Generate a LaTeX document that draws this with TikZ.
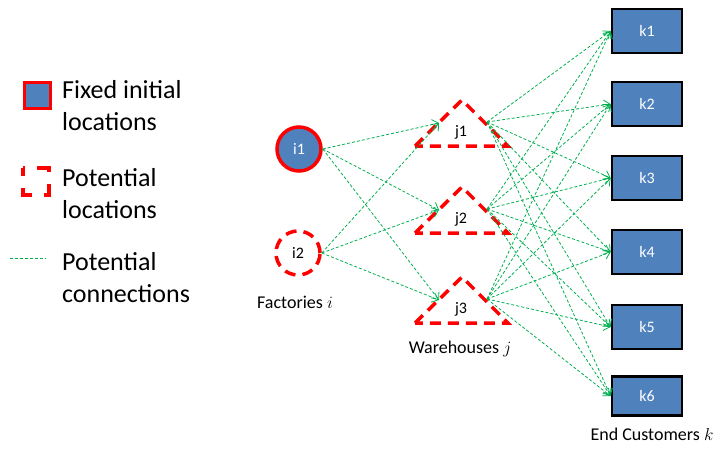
\documentclass[tikz,border=0pt]{standalone}
\usepackage{fontspec}
\setmainfont{Carlito}
\usetikzlibrary{arrows.meta}
\definecolor{gblue}{HTML}{4F81BD}
\definecolor{connc}{HTML}{00B050}
\begin{document}
\begin{tikzpicture}[x=1pt,y=-1pt,
  custbox/.style={draw=black, line width=2.8pt, fill=gblue, minimum width=70pt, minimum height=44pt, text=white, font=\fontsize{16}{18}\selectfont},
  fixedloc/.style={draw=red, line width=3.5pt, fill=gblue},
  potloc/.style={draw=red, line width=3.5pt, dash pattern=on 11pt off 7pt},
  conn/.style={draw=connc, line width=0.8pt, dash pattern=on 3pt off 2pt, -{Straight Barb[length=6pt,width=10pt]}},
  lbl/.style={font=\fontsize{16}{18}\selectfont},
  caption/.style={font=\fontsize{18}{20}\selectfont},
  legtext/.style={font=\fontsize{26}{32}\selectfont, align=left, anchor=west, inner sep=0pt}
]
\useasboundingbox (0,0) rectangle (721,448);

% legend
\draw[fixedloc, line width=3pt] (24,82) rectangle (50,108);
\node[legtext] (lt1) at (62,106) {Fixed initial\\locations};
\draw[draw=red, line width=3.5pt, dash pattern=on 16pt off 12pt, dash phase=8pt] (23,168) rectangle (49,195);
\node[legtext] (lt2) at (62,194) {Potential\\locations};
\coordinate (lg1) at (10,258);
\coordinate (lg2) at (46,258);
\draw[draw=connc, line width=0.8pt, dash pattern=on 3pt off 2pt] (lg1) -- (lg2);
\node[legtext] (lt3) at (62,278) {Potential\\connections};

% factories
\node[circle, fixedloc, minimum size=44pt, inner sep=0pt, text=white, lbl] (i1) at (299,149) {i1};
\node[circle, potloc, minimum size=44pt, inner sep=0pt, lbl] (i2) at (298,253) {i2};
\node[caption] (fac) at (295,302) {Factories $i$};

% warehouses
\foreach \n/\y in {1/0,2/87,3/177}{
  \draw[potloc] (415,146+\y) -- (462,100+\y) -- (508,146+\y) -- cycle;
  \coordinate (j\n in) at (439,123+\y);
  \coordinate (j\n out) at (487,122+\y);
  \node[lbl] (j\n) at (461,132+\y) {j\n};
}
\node[caption] (wh) at (460,349) {Warehouses $j$};

% customers
\node[custbox] (k1) at (647,31) {k1};
\node[custbox] (k2) at (647,104) {k2};
\node[custbox] (k3) at (647,178) {k3};
\node[custbox] (k4) at (647,252) {k4};
\node[custbox] (k5) at (647,327) {k5};
\node[custbox, minimum height=39pt] (k6) at (647,396) {k6};
\node[caption] (ec) at (652,434) {End Customers $k$};

% connections
\foreach \i in {1,2}{
  \foreach \j in {1,2,3}{
    \draw[conn] (i\i.east) -- (j\j in);
  }
}
\foreach \j in {1,2,3}{
  \foreach \k in {1,...,6}{
    \draw[conn] (j\j out) -- (k\k.west);
  }
}
\end{tikzpicture}
\end{document}
